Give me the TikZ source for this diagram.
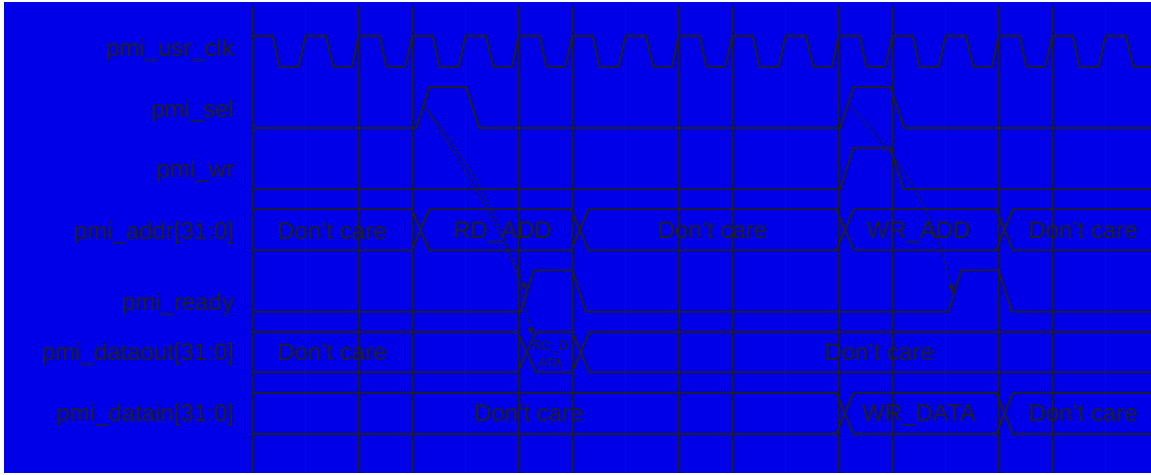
\documentclass[tikz,border=0pt]{standalone}
\usepackage{fontspec}
\setmainfont{Liberation Sans}
\usetikzlibrary{arrows.meta}
\definecolor{bg}{RGB}{0,0,232}
\definecolor{ink}{RGB}{32,32,36}
\begin{document}
\begin{tikzpicture}[x=1pt,y=-1pt,
  sig/.style={draw=ink,line width=1.8pt,line join=miter},
  gridline/.style={draw=ink,line width=0.9pt},
  thinarrow/.style={draw=ink,line width=0.6pt,-{Latex[length=9pt,width=6pt]}},
  lbl/.style={text=ink,font=\fontsize{24}{28}\selectfont,inner sep=0pt,anchor=base east},
  buslbl/.style={text=ink,font=\fontsize{24}{28}\selectfont,inner sep=0pt,anchor=base},
  smalllbl/.style={text=ink,font=\fontsize{13}{16}\selectfont,inner sep=0pt,anchor=base}]
\useasboundingbox (0,0) rectangle (1151,474);
\fill[white] (0,0) rectangle (1151,474);
\fill[bg] (4,2) rectangle (1151,473);
\begin{scope}
\clip (4,2) rectangle (1151,473);
% grid
\foreach \k in {0,...,16} \draw[gridline] ({252+53.333*\k},6) -- ({252+53.333*\k},473);
% clock
\draw[sig] (252,36) \foreach \k in {0,...,17} { -- ({252+53.333*\k+20.5},36) -- ({252+53.333*\k+27.5},66.7) -- ({252+53.333*\k+46.5},66.7) -- ({252+53.333*\k+53.333},36) };
% sel
\draw[sig] (252,128) -- (416,128) -- (429,87.3) -- (466,87.3) -- (479,128) -- (840,128) -- (853,87.3) -- (890,87.3) -- (904,128) -- (1151,128);
% wr
\draw[sig] (252,189.3) -- (840,189.3) -- (853,148) -- (890,148) -- (903.5,189.3) -- (1151,189.3);
% addr bus
\draw[sig] (252,209.3) -- (411.7,209.3) -- (429,250.3) -- (570.7,250.3) -- (588.3,209.3) -- (836,209.3) -- (853.7,250.3) -- (996,250.3) -- (1012.7,209.3) -- (1151,209.3);
\draw[sig] (252,250.3) -- (411.7,250.3) -- (429,209.3) -- (570.7,209.3) -- (588.3,250.3) -- (836,250.3) -- (853.7,209.3) -- (996,209.3) -- (1012.7,250.3) -- (1151,250.3);
% ready
\draw[sig] (252,311.7) -- (520.7,311.7) -- (533.3,270.3) -- (572.3,270.3) -- (585.7,311.7) -- (948.3,311.7) -- (961,270.3) -- (998.3,270.3) -- (1011.7,311.7) -- (1151,311.7);
% dataout bus
\draw[sig] (252,332) -- (517.3,332) -- (535.7,372.3) -- (571.7,372.3) -- (589.3,332) -- (1151,332);
\draw[sig] (252,372.3) -- (517.3,372.3) -- (535.7,332) -- (571.7,332) -- (589.3,372.3) -- (1151,372.3);
% datain bus
\draw[sig] (252,392.7) -- (836,392.7) -- (853.3,434) -- (996,434) -- (1012.7,392.7) -- (1151,392.7);
\draw[sig] (252,434) -- (836,434) -- (853.3,392.7) -- (996,392.7) -- (1012.7,434) -- (1151,434);
\end{scope}
% signal names
\node[lbl] (lclk) at (234,56) {pmi\_usr\_clk};
\node[lbl] (lsel) at (234,117) {pmi\_sel};
\node[lbl] (lwr) at (234,177) {pmi\_wr};
\node[lbl] (laddr) at (234,239.5) {pmi\_addr[31:0]};
\node[lbl] (lready) at (234,310) {pmi\_ready};
\node[lbl] (ldout) at (234,360.5) {pmi\_dataout[31:0]};
\node[lbl] (ldin) at (234,421.5) {pmi\_datain[31:0]};
% bus values
\node[buslbl] (a1) at (331.7,239) {Don't care};
\node[buslbl] (a2) at (502.5,238.5) {RD\_ADD};
\node[buslbl] (a3) at (712.3,238.5) {Don't care};
\node[buslbl] (a4) at (918.3,238.5) {WR\_ADD};
\node[buslbl] (a5) at (1083,238.5) {Don't care};
\node[buslbl] (o1) at (331.7,360) {Don't care};
\node[smalllbl] (o2a) at (550,350) {RD\_D};
\node[smalllbl] (o2b) at (550,367) {ATA};
\node[buslbl] (o3) at (879,360) {Don't care};
\node[buslbl] (i1) at (528.7,421.5) {Don't care};
\node[buslbl] (i2) at (918.8,421.5) {WR\_DATA};
\node[buslbl] (i3) at (1083,421.5) {Don't care};
% causality arrows
\coordinate (s1) at (423.3,105);
\coordinate (r1) at (527,291.5);
\coordinate (d1) at (532,336.5);
\coordinate (s2) at (848.5,105);
\coordinate (r2) at (953,294);
\draw[thinarrow] (s1) to[bend left=4] (r1);
\draw[thinarrow] (s1) to[bend left=13] (d1);
\draw[thinarrow] (s2) to[bend left=15] (r2);
\end{tikzpicture}
\end{document}
